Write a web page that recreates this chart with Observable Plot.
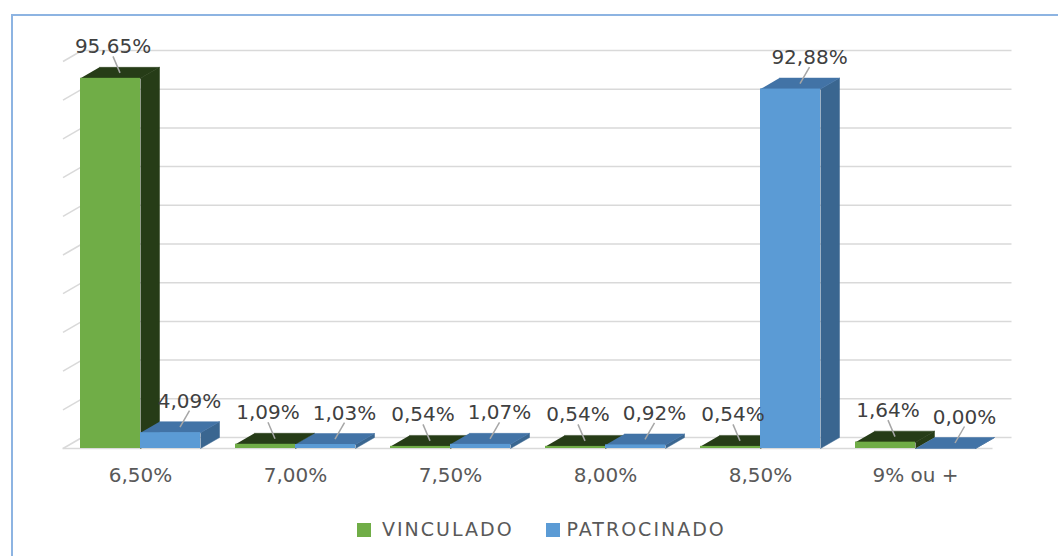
<!DOCTYPE html>
<html>
<head>
<meta charset="utf-8">
<script src="https://cdn.jsdelivr.net/npm/d3@7"></script>
<script src="https://cdn.jsdelivr.net/npm/@observablehq/plot@0.6"></script>
<style>
  html, body { margin: 0; padding: 0; background: #fff; overflow: hidden; width: 1058px; height: 556px; }
  #frame { position: absolute; left: 11px; top: 14px; width: 2000px; height: 2000px; border: 2px solid #8db4e2; box-sizing: border-box; }
  #chart { position: absolute; left: 0; top: 0; }
  #legend { position: absolute; left: 357px; top: 520px; display: flex; align-items: center;
            font-family: "DejaVu Sans", sans-serif; font-size: 19px; line-height: 19px; letter-spacing: 2px; color: #595959; }
  #legend .sw { width: 14px; height: 14px; display: inline-block; }
</style>
</head>
<body>
<div id="frame"></div>
<div id="chart"></div>
<div id="legend"></div>
<script>
// ---- data ----
const categories = ["6,50%", "7,00%", "7,50%", "8,00%", "8,50%", "9% ou +"];
const vinculado = [95.65, 1.09, 0.54, 0.54, 0.54, 1.64];
const patrocinado = [4.09, 1.03, 1.07, 0.92, 92.88, 0.00];
const seriesNames = ["VINCULADO", "PATROCINADO"];
const yTicks = [0, 10, 20, 30, 40, 50, 60, 70, 80, 90, 100];

// ---- styling / layout ----
const W = 1058, H = 500;
const mL = 62.5, mR = 65.5, mT = 61, mB = 52;
const pxX = 6 / (W - mL - mR);        // data units per pixel (x)
const pxY = 100 / (H - mT - mB);      // data units per pixel (y)
const barW = 60 * pxX;
const dX = 19 * pxX, dY = 11 * pxY;   // 3D depth
const colors = {
  front: ["#70ad47", "#5b9bd5"],
  top: ["#263c17", "#4273a6"],
  side: ["#263c17", "#3a6690"]
};
const labelShift = [-7, 9.5];         // px, per series
const grid = "#d9d9d9";

const values = [vinculado, patrocinado];
const bars = [];
values.forEach((arr, s) => {
  arr.forEach((v, i) => {
    const x1 = i + 0.5 - (s === 0 ? barW : 0);
    bars.push({id: `${s}-${i}`, s, i, v, x1, x2: x1 + barW});
  });
});

function sideFace(b) {
  return [[b.x2, 0], [b.x2 + dX, dY], [b.x2 + dX, b.v + dY], [b.x2, b.v]].map(([x, y]) => ({id: b.id, x, y}));
}
function topFace(b) {
  return [[b.x1, b.v], [b.x2, b.v], [b.x2 + dX, b.v + dY], [b.x1 + dX, b.v + dY]].map(([x, y]) => ({id: b.id, x, y}));
}

const fmt = v => v.toFixed(2).replace(".", ",") + "%";
const labels = bars.map(b => {
  const cx = (b.x1 + b.x2) / 2 + dX / 2;
  const lx = cx + labelShift[b.s] * pxX;
  return {
    text: fmt(b.v),
    x: lx,
    y: b.v + dY + 14 * pxY,
    lx1: lx, ly1: b.v + dY + 11 * pxY,
    lx2: cx, ly2: b.v + dY / 2
  };
});

const marks = [
  // back wall gridlines
  Plot.ruleY(yTicks, {y: t => t + dY, x1: () => dX, x2: () => 6 + dX, stroke: grid, strokeWidth: 1.5}),
  // left wall diagonals
  Plot.link(yTicks, {x1: () => 0, y1: t => t, x2: () => dX, y2: t => t + dY, stroke: grid, strokeWidth: 1.5}),
  // floor front edge
  Plot.ruleY([0], {x1: () => 0, x2: () => 6, stroke: grid, strokeWidth: 1.5})
];
[0, 1].forEach(s => {
  const bs = bars.filter(b => b.s === s);
  marks.push(
    Plot.line(bs.flatMap(sideFace), {x: "x", y: "y", z: "id", fill: colors.side[s], stroke: colors.side[s], strokeWidth: 0.5}),
    Plot.line(bs.flatMap(topFace), {x: "x", y: "y", z: "id", fill: colors.top[s], stroke: colors.top[s], strokeWidth: 0.5}),
    Plot.rect(bs, {x1: "x1", x2: "x2", y1: () => 0, y2: "v", fill: colors.front[s]})
  );
});
marks.push(
  Plot.link(labels, {x1: "lx1", y1: "ly1", x2: "lx2", y2: "ly2", stroke: "#a6a6a6", strokeWidth: 1.5}),
  Plot.text(labels, {x: "x", y: "y", text: "text", textAnchor: "middle", lineAnchor: "bottom", fontSize: 20, fill: "#404040"}),
  Plot.axisX({
    ticks: categories.map((_, i) => i + 0.5),
    tickFormat: d => categories[Math.floor(d)],
    tickSize: 0, tickPadding: 19, fontSize: 20, fill: "#595959", label: null
  })
);

const chart = Plot.plot({
  width: W, height: H,
  marginLeft: mL, marginRight: mR, marginTop: mT, marginBottom: mB,
  style: {fontFamily: "DejaVu Sans, sans-serif", background: "transparent", color: "#595959"},
  x: {type: "linear", domain: [0, 6]},
  y: {domain: [0, 100], axis: null},
  marks
});
document.getElementById("chart").appendChild(chart);

// legend
const legend = document.getElementById("legend");
seriesNames.forEach((name, s) => {
  const sw = document.createElement("span");
  sw.className = "sw";
  sw.style.background = colors.front[s];
  sw.style.marginRight = s === 0 ? "11px" : "7px";
  const t = document.createElement("span");
  t.textContent = name;
  t.style.marginRight = s === 0 ? "32px" : "0";
  legend.appendChild(sw);
  legend.appendChild(t);
});
</script>
</body>
</html>
